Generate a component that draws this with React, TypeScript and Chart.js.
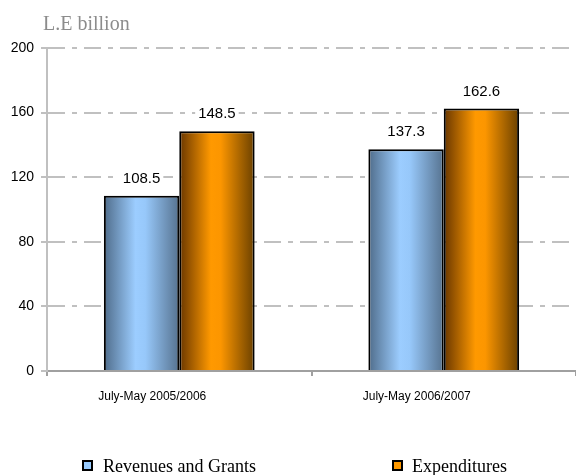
import { useEffect, useRef } from 'react';
import { Chart, registerables } from 'chart.js';

Chart.register(...registerables);

const categories = ['July-May 2005/2006', 'July-May 2006/2007'];
const seriesNames = ['Revenues and Grants', 'Expenditures'];
const revenues = [108.5, 137.3];
const expenditures = [148.5, 162.6];
const yMin = 0;
const yMax = 200;
const yStep = 40;
const unitLabel = 'L.E billion';

const solidColors = ['#99ccff', '#ff9900'];
const gradientStops: [number, string][][] = [
  [[0, '#4f6c8a'], [0.42, '#9ccdff'], [0.55, '#97c8fa'], [1, '#56728f']],
  [[0, '#683600'], [0.42, '#ff9900'], [0.55, '#fc9600'], [1, '#6a4000']],
];

const gradientPlugin = {
  id: 'barGradient',
  beforeDatasetDraw(chart: any, args: any) {
    const meta = chart.getDatasetMeta(args.index);
    const stops = gradientStops[args.index];
    const ctx = chart.ctx;
    meta.data.forEach((el: any) => {
      const { x, width } = el.getProps(['x', 'width'], true);
      const g = ctx.createLinearGradient(x - width / 2, 0, x + width / 2, 0);
      stops.forEach(([o, c]) => g.addColorStop(o, c));
      el.options = { ...el.options, backgroundColor: g };
    });
  },
};

const valueLabelPlugin = {
  id: 'valueLabels',
  afterDatasetsDraw(chart: any) {
    const ctx = chart.ctx;
    ctx.save();
    ctx.font = '15px "Liberation Sans", Arial, sans-serif';
    ctx.textAlign = 'center';
    ctx.textBaseline = 'middle';
    chart.data.datasets.forEach((ds: any, di: number) => {
      const meta = chart.getDatasetMeta(di);
      meta.data.forEach((el: any, i: number) => {
        const text = Number(ds.data[i]).toFixed(1);
        const w = ctx.measureText(text).width;
        const y = el.y - 17;
        ctx.fillStyle = '#ffffff';
        ctx.fillRect(el.x - w / 2 - 3, y - 9, w + 6, 18);
        ctx.fillStyle = '#000000';
        ctx.fillText(text, el.x, y);
      });
    });
    ctx.restore();
  },
};

const decorPlugin = {
  id: 'decor',
  afterDraw(chart: any) {
    const ctx = chart.ctx;
    ctx.save();
    // unit title
    ctx.font = '20px "Liberation Serif", "Times New Roman", serif';
    ctx.fillStyle = '#8c8c8c';
    ctx.textAlign = 'left';
    ctx.textBaseline = 'alphabetic';
    ctx.fillText(unitLabel, 43, 30);
    // legend
    const items = [
      { box: 83, text: 103 },
      { box: 393, text: 412 },
    ];
    ctx.font = '18px "Liberation Serif", "Times New Roman", serif';
    items.forEach((it, i) => {
      ctx.fillStyle = solidColors[i];
      ctx.fillRect(it.box, 461, 9, 9);
      ctx.lineWidth = 2;
      ctx.strokeStyle = '#000000';
      ctx.strokeRect(it.box, 461, 9, 9);
      ctx.fillStyle = '#000000';
      ctx.fillText(seriesNames[i], it.text, 472);
    });
    ctx.restore();
  },
};

export default function App() {
  const ref = useRef<HTMLCanvasElement>(null);

  useEffect(() => {
    if (!ref.current) return;
    const chart = new Chart(ref.current, {
      type: 'bar',
      data: {
        labels: categories,
        datasets: [
          {
            label: seriesNames[0],
            data: revenues,
            backgroundColor: solidColors[0],
            borderColor: '#000000',
            borderWidth: 2,
            barPercentage: 1,
            categoryPercentage: 0.57,
          },
          {
            label: seriesNames[1],
            data: expenditures,
            backgroundColor: solidColors[1],
            borderColor: '#000000',
            borderWidth: 2,
            barPercentage: 1,
            categoryPercentage: 0.57,
          },
        ],
      },
      options: {
        responsive: false,
        animation: false,
        layout: { padding: { top: 48, left: 0, right: 0, bottom: 0 } },
        plugins: {
          legend: { display: false },
          title: { display: false },
          tooltip: { enabled: false },
        },
        scales: {
          x: {
            type: 'category',
            offset: true,
            grid: {
              display: true,
              drawOnChartArea: false,
              drawTicks: true,
              tickLength: 5,
              offset: true,
              color: '#a0a0a0',
              lineWidth: 2,
            },
            border: { color: '#a0a0a0', width: 2 },
            ticks: {
              color: '#000000',
              font: { family: '"Liberation Sans", Arial, sans-serif', size: 12 },
              padding: 13,
              labelOffset: -27,
              maxRotation: 0,
              autoSkip: false,
            },
            afterFit: (s: any) => {
              s.height = 104;
            },
          },
          y: {
            min: yMin,
            max: yMax,
            ticks: {
              stepSize: yStep,
              color: '#000000',
              font: { family: '"Liberation Sans", Arial, sans-serif', size: 14 },
              padding: 7,
            },
            grid: {
              color: '#c0c0c0',
              lineWidth: 2,
              drawTicks: true,
              tickLength: 6,
              tickColor: '#c0c0c0',
            },
            border: { color: '#c0c0c0', width: 2, dash: [17, 7, 5, 7] },
            afterFit: (s: any) => {
              s.width = 47;
            },
          },
        },
      } as any,
      plugins: [gradientPlugin, valueLabelPlugin, decorPlugin],
    });
    return () => chart.destroy();
  }, []);

  return (
    <div style={{ position: 'fixed', left: 0, top: 0, width: 576, height: 475, background: '#ffffff' }}>
      <canvas ref={ref} width={576} height={475} style={{ display: 'block', width: 576, height: 475 }} />
    </div>
  );
}
